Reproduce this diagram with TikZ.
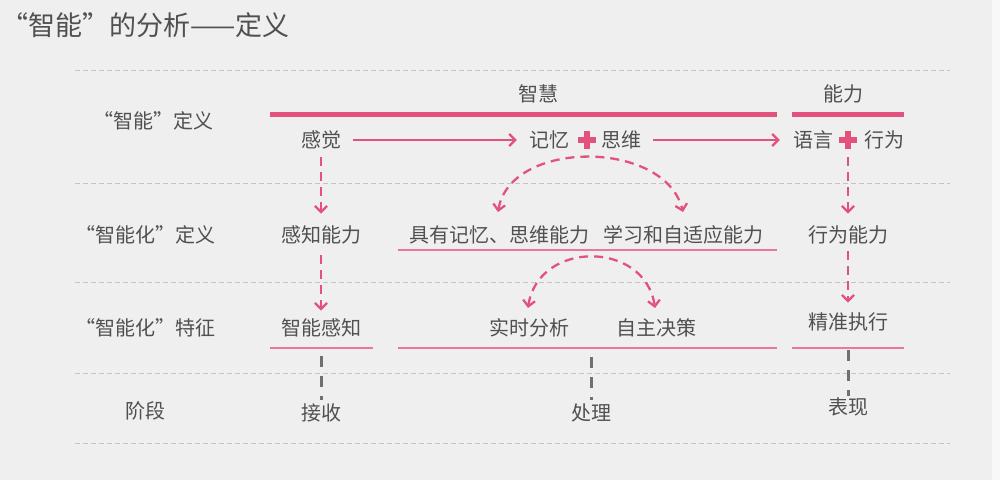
\documentclass[tikz,border=0pt]{standalone}
\usepackage{fontspec}
\setmainfont{Noto Sans CJK SC}
\usetikzlibrary{arrows.meta}
\definecolor{bg}{HTML}{EFEFEF}
\definecolor{pinkc}{HTML}{E2527D}
\definecolor{pinkl}{HTML}{E8789A}
\definecolor{txt}{HTML}{505050}
\definecolor{gridc}{HTML}{C4C4C4}
\definecolor{stagec}{HTML}{707070}
\begin{document}
\begin{tikzpicture}[x=1pt,y=-1pt,
  lbl/.style={font=\fontsize{20}{20}\selectfont, text=txt, inner sep=0pt},
  ttl/.style={font=\fontsize{27}{27}\selectfont, text=txt, inner sep=0pt, anchor=west},
  gridline/.style={gridc, line width=0.8pt, dash pattern=on 5pt off 3pt},
  thickbar/.style={pinkc, line width=5pt},
  underl/.style={pinkl, line width=2pt},
  arr/.style={pinkc, line width=2.3pt, -{Straight Barb[length=6pt,width=12pt]}},
  darr/.style={arr, dash pattern=on 9pt off 6pt},
  darrb/.style={pinkc, line width=2.3pt, dash pattern=on 9pt off 6pt,
     {Straight Barb[length=6pt,width=12pt]}-{Straight Barb[length=6pt,width=12pt]}},
  stageline/.style={stagec, line width=3pt, dash pattern=on 11pt off 9pt},
  plusbox/.style={minimum size=18pt, inner sep=0pt},
  plusbar/.style={pinkc, line width=5.5pt}
]
% background
\fill[bg] (0,0) rectangle (1000,480);
\fill[white!55!bg] (992,0) rectangle (1000,480);
\useasboundingbox (0,0) rectangle (1000,480);

% title
\node[ttl] (title) at (1,25) {“智能”的分析——定义};

% grid lines
\foreach \yy in {70,183,282,373,443}
  \draw[gridline] (75,\yy) -- (950,\yy);

% row labels
\node[lbl] (r1) at (153,121) {“智能”定义};
\node[lbl] (r2) at (145,235) {“智能化”定义};
\node[lbl] (r3) at (145,328) {“智能化”特征};
\node[lbl] (r4) at (145,411) {阶段};

% top bars
\draw[thickbar] (270,114) -- (777,114);
\draw[thickbar] (792,114) -- (904,114);
\node[lbl] (zhihui) at (538,94) {智慧};
\node[lbl] (nengli) at (843,94) {能力};

% row 1
\node[lbl] (ganjue) at (321,140) {感觉};
\node[lbl] (jiyi) at (549,140) {记忆};
\node[plusbox] (p1) at (587,140) {};
\draw[plusbar] (p1.north) -- (p1.south) (p1.west) -- (p1.east);
\node[lbl] (siwei) at (621,140) {思维};
\node[lbl] (yuyan) at (813,140) {语言};
\node[plusbox] (p2) at (848,140) {};
\draw[plusbar] (p2.north) -- (p2.south) (p2.west) -- (p2.east);
\node[lbl] (xingwei) at (884,140) {行为};

\draw[arr, shorten <=12pt, shorten >=12pt] (ganjue.east) -- (jiyi.west);
\draw[arr, shorten <=12pt, shorten >=13pt] (siwei.east) -- (yuyan.west);

% row 2
\node[lbl] (ganzhi) at (321,235) {感知能力};
\node[lbl] (jiyou) at (499,235) {具有记忆、思维能力};
\node[lbl] (xuexi) at (683,235) {学习和自适应能力};
\node[lbl] (xwnl) at (848,235) {行为能力};
\draw[underl] (398,250) -- (777,250);

\draw[darr, shorten <=8pt, shorten >=12pt] (ganjue.south) -- (ganzhi.north);
\draw[darr, shorten <=8pt, shorten >=12pt] (p2.south) -- (xwnl.north);

\coordinate (a1s) at (498,212);
\coordinate (a1e) at (683,212);
\draw[darrb] (a1s) .. controls (510,139) and (665,139) .. (a1e);

% row 3
\node[lbl] (zngz) at (321,328) {智能感知};
\node[lbl] (sshi) at (529,328) {实时分析};
\node[lbl] (zzhu) at (656,328) {自主决策};
\node[lbl] (jzzx) at (848,322) {精准执行};
\draw[underl] (270,348) -- (373,348);
\draw[underl] (398,348) -- (777,348);
\draw[underl] (792,348) -- (904,348);
\coordinate (mid) at (591,348);

\draw[darr, shorten <=11pt, shorten >=8pt] (ganzhi.south) -- (zngz.north);
\draw[darr, shorten <=7pt, shorten >=10pt] (xwnl.south) -- (jzzx.north);

\coordinate (a2s) at (528,308);
\coordinate (a2e) at (655,308);
\draw[darrb] (a2s) .. controls (538,240) and (645,240) .. (a2e);

% row 4
\node[lbl] (jieshou) at (321,413) {接收};
\node[lbl] (chuli) at (591,413) {处理};
\node[lbl] (biaoxian) at (848,407) {表现};

\draw[stageline, shorten <=19pt, shorten >=4pt] (zngz.south) -- (jieshou.north);
\draw[stageline, shorten <=9pt, shorten >=4pt] (mid) -- (chuli.north);
\draw[stageline, shorten <=19pt, shorten >=2pt] (jzzx.south) -- (biaoxian.north);
\end{tikzpicture}
\end{document}
